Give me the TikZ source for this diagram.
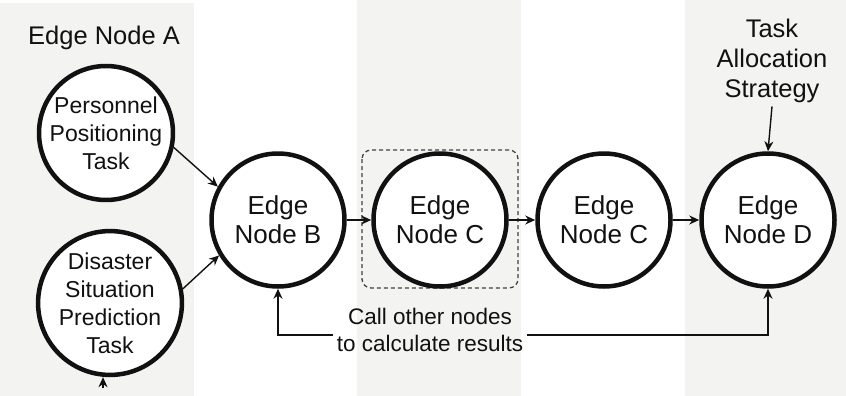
\documentclass[tikz,border=0pt]{standalone}
\usepackage{fontspec}
\setmainfont{Liberation Sans}
\usetikzlibrary{arrows.meta}
\definecolor{panel}{HTML}{F3F3F1}
\definecolor{ink}{HTML}{111111}
\tikzset{
  circ/.style={circle, draw=ink, line width=4.5pt, fill=white, minimum size=133pt, inner sep=0pt, align=center, font=\fontsize{26}{29}\selectfont, text=ink},
  task/.style={circ, font=\fontsize{23}{28}\selectfont},
  arr/.style={draw=ink, line width=1.4pt, -{Stealth[length=10pt,width=9pt]}},
  lbl/.style={align=center, text=ink},
  dbox/.style={draw=ink!80, line width=1.3pt, dash pattern=on 4pt off 3pt, rounded corners=9pt}
}
\begin{document}
\begin{tikzpicture}[x=1pt,y=-1pt]
\useasboundingbox (0,0) rectangle (846,396);
\fill[white] (0,0) rectangle (846,396);
% background panels
\fill[panel] (0,3) rectangle (194,396);
\fill[panel] (357,0) rectangle (521,396);
\fill[panel] (685,0) rectangle (846,396);
% header labels
\node[lbl, font=\fontsize{25.5}{30}\selectfont] (hA) at (104,38) {Edge Node A};
\node[lbl, font=\fontsize{25.5}{30}\selectfont] (tas) at (772,61) {Task\\Allocation\\Strategy};
% dashed box
\draw[dbox] (362,150) rectangle (518,288);
% circles
\node[task] (P) at (106,133) {Personnel\\Positioning\\Task};
\node[task] (S) at (110,303) {Disaster\\Situation\\Prediction\\Task};
\node[circ] (B) at (278,220) {Edge\\Node B};
\node[circ] (C1) at (440,220) {Edge\\Node C};
\node[circ] (C2) at (604,220) {Edge\\Node C};
\node[circ] (D) at (768,220) {Edge\\Node D};
% arrows
\draw[arr] (P.-12) -- (B.151);
\draw[arr] (S.11) -- (B.211);
\draw[arr] (B) -- (C1);
\draw[arr] (C1) -- (C2);
\draw[arr] (C2) -- (D);
\draw[arr] (tas.south) -- (D.north);
\coordinate (sb) at (103,388);
\draw[arr] (sb) -- (sb |- S.south);
% bottom feedback
\node[lbl, font=\fontsize{22.5}{27}\selectfont] (call) at (430,330) {Call other nodes\\to calculate results};
\coordinate (bl) at (278,335);
\coordinate (br) at (768,335);
\draw[arr] (call.west |- bl) -- (bl) -- (B.south);
\draw[arr] (call.east |- br) -- (br) -- (D.south);
\end{tikzpicture}
\end{document}
